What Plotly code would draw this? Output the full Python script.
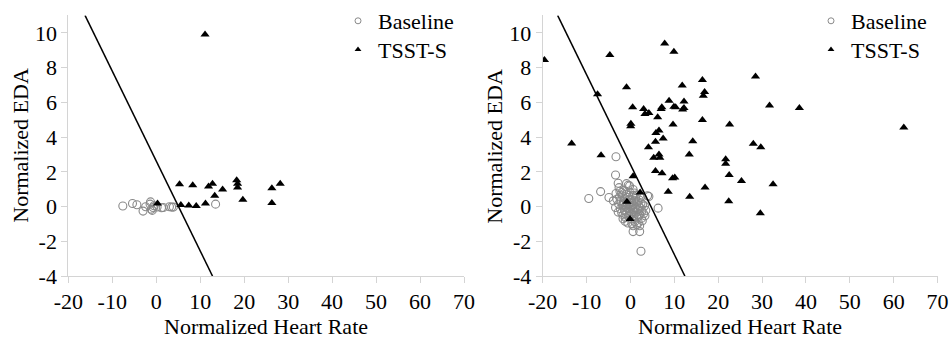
import plotly.graph_objects as go

# ---- Data: normalized heart rate (x) vs normalized EDA (y) ----
# Panel 1
base1_x = [-7.6, -5.4, -4.4, -3.0, -2.4, -1.4, -1.3, -1.1, -0.9, -0.7, -0.5,
           0.2, 1.2, 1.6, 3.0, 3.5, 3.9, 13.5]
base1_y = [0.03, 0.18, 0.10, -0.26, -0.01, 0.14, 0.27, -0.15, -0.22, -0.05, 0.05,
           -0.02, -0.07, -0.05, -0.01, -0.03, -0.03, 0.14]
tsst1_x = [11.1, 5.3, 8.3, 11.9, 12.8, 15.1, 13.3, 18.3, 18.5, 18.5, 19.7,
           26.3, 28.2, 26.3, 0.3, 5.6, 7.4, 9.1, 11.2]
tsst1_y = [9.9, 1.29, 1.23, 1.15, 1.32, 0.98, 0.62, 1.52, 1.32, 1.09, 0.39,
           1.06, 1.32, 0.20, 0.18, 0.09, 0.06, 0.03, 0.18]
bound1_x = [-16.2, 12.8]
bound1_y = [11.0, -4.0]

# Panel 2
base2_x = [-9.5, -6.8, -4.9, -3.9, -3.3, -3.4, -2.8, -2.6, -0.9, -0.5, -0.2, -3.3,
           -2.0, 3.9, 4.2, 6.3, 0.6, 2.1, 1.5, 0.6, 2.1, 2.4, 3.3,
           -3.1, -2.7, -2.5, -2.3, -2.2, -2.0, -1.9, -1.8, -1.7, -1.6, -1.5, -1.4,
           -1.3, -1.2, -1.1, -1.0, -0.9, -0.8, -0.7, -0.6, -0.5, -0.4, -0.3, -0.2,
           -0.1, 0.0, 0.1, 0.2, 0.3, 0.4, 0.5, 0.6, 0.7, 0.8, 0.9, 1.0, 1.1, 1.2,
           1.3, 1.4, 1.5, 1.6, 1.7, 1.8, 1.9, 2.0, 2.1, 2.2, 2.4, 2.5, 2.6, 2.8,
           3.0, 3.2, 3.5, -0.6, 0.3, -1.2, 0.9, -2.8, 1.3, -0.2, 0.4, -0.9, 0.7,
           -1.5, 1.9, -0.4, 0.1, 2.3, -2.4, -3.4, 2.7, 0.6, -1.7]
base2_y = [0.46, 0.86, 0.52, 0.33, 2.87, 1.82, 1.34, 1.09, 1.32, 1.23, 1.19, 0.75,
           0.81, 0.62, 0.58, -0.09, -1.10, -1.10, -1.04, -1.44, -1.44, -2.57, -0.53,
           0.42, 0.15, 0.55, -0.12, 0.31, -0.35, 0.62, 0.08, -0.48, 0.27, 0.94, -0.21,
           0.45, 0.02, -0.63, 0.71, 0.18, -0.34, 0.52, -0.08, 0.36, -0.55, 0.12, 0.83,
           -0.27, 0.41, -0.02, -0.71, 0.25, -0.39, 0.63, -0.15, 0.09, -0.52, 0.33, -0.86,
           -0.06, 0.47, -0.31, 0.14, -0.64, 0.29, -0.19, -0.92, 0.05, 0.38, -0.44, -0.08,
           0.21, -0.68, -0.25, 0.12, -0.41, 0.03, -0.22, -0.95, -0.98, -0.85, 0.78, -0.32,
           0.66, -0.12, 0.05, -0.04, -0.33, 0.12, -0.55, 0.64, -0.48, 0.53, 0.88, -0.05,
           -0.82, 0.98, -0.70]
tsst2_x = [-19.6, -13.4, -7.5, -6.7, -4.7, -0.9, -0.8, -0.1, 0.05, 0.1, 0.5, 0.6,
           2.2, 3.0, 3.3, 4.2, 4.1, 5.3, 5.7, 5.7, 5.8, 6.2, 6.5, 6.5, 6.7, 7.0,
           7.15, 7.2, 7.45, 7.8, 8.6, 8.8, 9.6, 9.7, 9.9, 9.9, 10.1, 10.3, 11.8,
           11.9, 12.2, 12.2, 13.4, 13.5, 14.2, 16.4, 16.4, 16.6, 16.9, 17.0, 21.7,
           21.7, 22.4, 22.5, 22.6, 25.3, 28.0, 28.5, 29.6, 29.7, 31.7, 32.5, 38.5, 62.3]
tsst2_y = [8.44, 3.63, 6.47, 2.95, 8.72, 6.87, 0.27, -0.72, 4.62, 4.77, 5.71, 1.74,
           0.81, 5.61, 5.33, 5.38, 3.42, 2.81, 2.05, 3.73, 4.24, 5.14, 4.38, 3.00, 2.81, 5.61,
           5.71, 1.92, 3.92, 9.39, 0.85, 6.09, 1.63, 4.72, 8.91, 5.75, 1.67, 5.71, 6.97,
           5.58, 5.67, 6.05, 3.00, 0.56, 3.76, 7.29, 4.98, 6.38, 6.60, 1.09, 2.72,
           2.47, 0.31, 1.82, 4.72, 1.47, 3.61, 7.48, -0.39, 3.42, 5.81, 1.28, 5.67, 4.55]
bound2_x = [-16.6, 12.4]
bound2_y = [11.0, -4.0]

x_ticks = [-20, -10, 0, 10, 20, 30, 40, 50, 60, 70]
y_ticks = [-4, -2, 0, 2, 4, 6, 8, 10]
x_ticktext = [str(v) for v in x_ticks]   # plain hyphen for negatives
y_ticktext = [str(v) for v in y_ticks]

FONT = "Liberation Serif"
AXIS_GREY = "#d4d4d4"
BASE_GREY = "#8a8a8a"
W, H = 949, 338

fig = go.Figure()

panels = [
    ("x", "y", ("legend", "legend2"), base1_x, base1_y, tsst1_x, tsst1_y, bound1_x, bound1_y),
    ("x2", "y2", ("legend3", "legend4"), base2_x, base2_y, tsst2_x, tsst2_y, bound2_x, bound2_y),
]

for xa, ya, lgs, bx, by, tx, ty, lx, ly in panels:
    fig.add_trace(go.Scatter(
        x=bx, y=by, mode="markers", xaxis=xa, yaxis=ya, showlegend=False,
        marker=dict(symbol="circle-open", size=8, color=BASE_GREY, line=dict(width=1.1)),
    ))
    fig.add_trace(go.Scatter(
        x=tx, y=ty, mode="markers", xaxis=xa, yaxis=ya, showlegend=False,
        marker=dict(symbol="triangle-up", size=8, color="black"),
    ))
    fig.add_trace(go.Scatter(
        x=lx, y=ly, mode="lines", xaxis=xa, yaxis=ya, showlegend=False,
        line=dict(color="black", width=1.5),
    ))
    # legend-only entries with small symbols
    fig.add_trace(go.Scatter(
        x=[None], y=[None], mode="markers", name="Baseline", legend=lgs[0],
        xaxis=xa, yaxis=ya,
        marker=dict(symbol="circle-open", size=6, color=BASE_GREY, line=dict(width=1)),
    ))
    fig.add_trace(go.Scatter(
        x=[None], y=[None], mode="markers", name="TSST-S", legend=lgs[1],
        xaxis=xa, yaxis=ya,
        marker=dict(symbol="triangle-up", size=6, color="black"),
    ))

xdoms = [[68.3 / W, 464.0 / W], [542.7 / W, 937.6 / W]]
ydom = [(H - 275.7) / H, (H - 13.5) / H]

axis_common = dict(
    showline=True, linecolor=AXIS_GREY, linewidth=1,
    ticks="outside", ticklen=6, tickcolor=AXIS_GREY, tickwidth=1,
    showgrid=False, zeroline=False, automargin=False,
    tickfont=dict(family=FONT, size=22, color="black"),
)
xaxis_common = dict(range=[-20, 70], tickvals=x_ticks, ticktext=x_ticktext,
                    ticklabelstandoff=0, **axis_common)
yaxis_common = dict(range=[-4, 11], tickvals=y_ticks, ticktext=y_ticktext, **axis_common)


def legend_box(x_px, y_px):
    return dict(x=x_px / W, y=1 - y_px / H, xanchor="left", yanchor="middle",
                font=dict(family=FONT, size=22, color="black"),
                bgcolor="rgba(0,0,0,0)", borderwidth=0)


fig.update_layout(
    width=W, height=H,
    margin=dict(l=0, r=0, t=0, b=0),
    paper_bgcolor="white", plot_bgcolor="white",
    font=dict(family=FONT, size=22, color="black"),
    xaxis=dict(domain=xdoms[0], anchor="y", **xaxis_common),
    yaxis=dict(domain=ydom, anchor="x", **yaxis_common),
    xaxis2=dict(domain=xdoms[1], anchor="y2", **xaxis_common),
    yaxis2=dict(domain=ydom, anchor="x2", **yaxis_common),
    legend=legend_box(338, 19),
    legend2=legend_box(338, 48),
    legend3=legend_box(811, 19),
    legend4=legend_box(811, 48),
)

# axis titles
for xd, x_title_px in [(xdoms[0], 21), (xdoms[1], 495)]:
    fig.add_annotation(text="Normalized Heart Rate", xref="paper", yref="paper",
                       x=(xd[0] + xd[1]) / 2, y=(H - 326) / H,
                       xanchor="center", yanchor="middle", showarrow=False,
                       font=dict(family=FONT, size=22, color="black"))
    fig.add_annotation(text="Normalized EDA", xref="paper", yref="paper",
                       x=x_title_px / W, y=(ydom[0] + ydom[1]) / 2, textangle=-90,
                       xanchor="center", yanchor="middle", showarrow=False,
                       font=dict(family=FONT, size=22, color="black"))

fig.write_html("out.html")
